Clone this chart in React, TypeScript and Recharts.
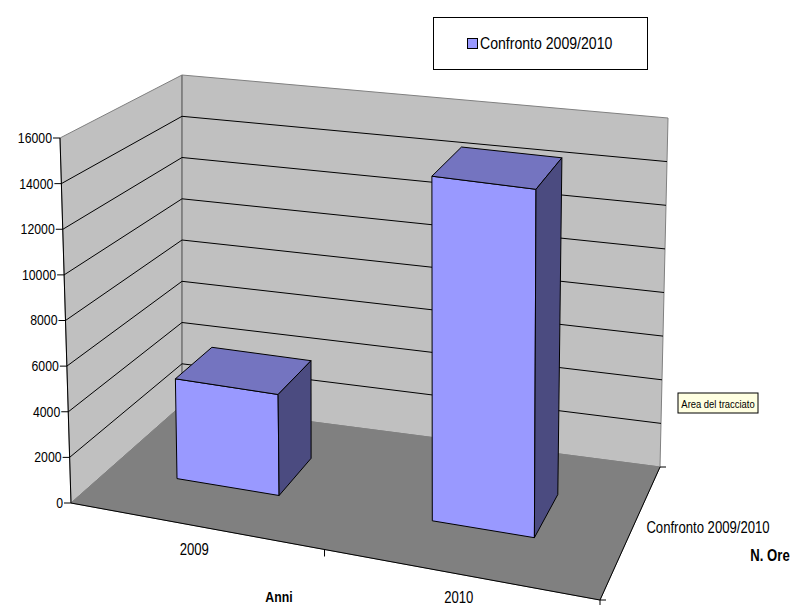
import { BarChart, Bar, XAxis, YAxis, CartesianGrid, Legend } from "recharts";

const CATEGORIES = ["2009", "2010"];
const ORE = [4500, 15100];
const Y_TICKS = [0, 2000, 4000, 6000, 8000, 10000, 12000, 14000, 16000];
const SERIES_NAME = "Confronto 2009/2010";

const data = CATEGORIES.map((anno, i) => ({ anno, ore: ORE[i] }));

const W = 811;
const H = 605;
const FONT = '"Liberation Sans", Arial, sans-serif';
const NARROW = 0.82;

// corners of the 3d box: F/B = front/back, L/R = left/right, 0/1 = floor/top
type Pt = [number, number];
const FL0: Pt = [71, 503];
const FL1: Pt = [60, 138];
const BL0: Pt = [182, 405];
const BL1: Pt = [182, 75];
const FR0: Pt = [600, 600];
const FR1: Pt = [601, 214];
const BR0: Pt = [660, 467];
const BR1: Pt = [668, 118];

const PLOT_TOP = 138;
const PLOT_BOTTOM = 503;
const PLOT_H = PLOT_BOTTOM - PLOT_TOP;
const FRAME_L = 71;
const FRAME_W = 530;
const PLOT_L = 60;
const PLOT_R = 590;
const YAXIS_W = 60;
const XAXIS_H = 30;
// depth of the columns inside the box (0 = front, 1 = back wall)
const DEPTH0 = 0.36;
const DEPTH1 = 0.7;

const lerp = (a: Pt, b: Pt, t: number): Pt => [a[0] + (b[0] - a[0]) * t, a[1] + (b[1] - a[1]) * t];

function P(u: number, v: number, w: number): Pt {
  const bottom = lerp(lerp(FL0, FR0, u), lerp(BL0, BR0, u), w);
  const top = lerp(lerp(FL1, FR1, u), lerp(BL1, BR1, u), w);
  return lerp(bottom, top, v);
}

const pts = (arr: Pt[]) => arr.map((p) => `${p[0].toFixed(1)},${p[1].toFixed(1)}`).join(" ");

// excel-ish condensed text
const NText = ({ x, y, size, anchor = "middle", bold = false, children }: any) => (
  <text
    transform={`translate(${x},${y}) scale(${NARROW},1)`}
    textAnchor={anchor}
    dominantBaseline="central"
    fontFamily={FONT}
    fontSize={size}
    fontWeight={bold ? "bold" : "normal"}
    fill="#000"
  >
    {children}
  </text>
);

function Frame() {
  const f0 = P(0, 0, 0);
  const f1 = P(1, 0, 0);
  const b1 = P(1, 0, 1);
  return (
    <g>
      <polygon points={pts([P(0, 0, 0), P(0, 0, 1), P(0, 1, 1), P(0, 1, 0)])} fill="#c0c0c0" stroke="#808080" />
      <polygon points={pts([P(0, 0, 1), P(1, 0, 1), P(1, 1, 1), P(0, 1, 1)])} fill="#c0c0c0" stroke="#808080" />
      <polygon points={pts([P(0, 0, 0), P(1, 0, 0), P(1, 0, 1), P(0, 0, 1)])} fill="#808080" stroke="#808080" />
      <line x1={BL0[0]} y1={BL0[1]} x2={BL1[0]} y2={BL1[1]} stroke="#707070" />
      {/* axes */}
      <line x1={f0[0]} y1={f0[1]} x2={FL1[0]} y2={FL1[1]} stroke="#000" />
      <line x1={f0[0]} y1={f0[1]} x2={f1[0]} y2={f1[1]} stroke="#000" />
      <line x1={f1[0]} y1={f1[1]} x2={b1[0]} y2={b1[1]} stroke="#000" />
      <line x1={f1[0]} y1={f1[1]} x2={f1[0]} y2={f1[1] + 7} stroke="#000" />
      <line x1={f1[0]} y1={f1[1]} x2={f1[0] + 6} y2={f1[1]} stroke="#000" />
      <line x1={b1[0]} y1={b1[1]} x2={b1[0] + 6} y2={b1[1]} stroke="#000" />
      <NText x={708} y={528} size={16}>
        {SERIES_NAME}
      </NText>
      <NText x={770} y={556} size={16} bold>
        N. Ore
      </NText>
      <NText x={279} y={597} size={15} bold>
        Anni
      </NText>
      <rect x={678} y={393} width={80} height={20} fill="#ffffe1" stroke="#000" />
      <NText x={718} y={403.5} size={11.5}>
        Area del tracciato
      </NText>
    </g>
  );
}

const renderGridLine = (props: any) => {
  const { y1, index } = props;
  const v = (PLOT_BOTTOM - y1) / PLOT_H;
  const line =
    v > 0.001 && v < 0.999 ? (
      <polyline points={pts([P(0, v, 0), P(0, v, 1), P(1, v, 1)])} fill="none" stroke="#000" />
    ) : null;
  return (
    <g key={`grid-${index}`}>
      {index === 0 && <Frame />}
      {line}
    </g>
  );
};

const YTick = ({ y, payload }: any) => {
  const v = (PLOT_BOTTOM - y) / PLOT_H;
  const [ax, ay] = P(0, v, 0);
  return (
    <g>
      <line x1={ax - 7} y1={ay} x2={ax} y2={ay} stroke="#000" />
      <NText x={ax - 8} y={ay} size={15} anchor="end">
        {payload.value}
      </NText>
    </g>
  );
};

const XTick = ({ x, payload, index }: any) => {
  const u = (x - FRAME_L) / FRAME_W;
  const [px, py] = P(u, 0, 0);
  const [tx, ty] = P(u + 0.5 / CATEGORIES.length, 0, 0);
  return (
    <g>
      <NText x={px + 2} y={py + 24} size={16}>
        {payload.value}
      </NText>
      {index < CATEGORIES.length - 1 && <line x1={tx} y1={ty} x2={tx} y2={ty + 7} stroke="#000" />}
    </g>
  );
};

const Column3D = (props: any) => {
  const { x, y, width } = props;
  const u0 = (x - FRAME_L) / FRAME_W;
  const u1 = (x + width - FRAME_L) / FRAME_W;
  const v = (PLOT_BOTTOM - y) / PLOT_H;
  const front = [P(u0, 0, DEPTH0), P(u1, 0, DEPTH0), P(u1, v, DEPTH0), P(u0, v, DEPTH0)];
  const top = [P(u0, v, DEPTH0), P(u1, v, DEPTH0), P(u1, v, DEPTH1), P(u0, v, DEPTH1)];
  const side = [P(u1, 0, DEPTH0), P(u1, 0, DEPTH1), P(u1, v, DEPTH1), P(u1, v, DEPTH0)];
  return (
    <g strokeLinejoin="round">
      <polygon points={pts(front)} fill="#9999ff" stroke="#000" />
      <polygon points={pts(top)} fill="#7474c0" stroke="#000" />
      <polygon points={pts(side)} fill="#4b4b80" stroke="#000" />
    </g>
  );
};

const LegendBox = () => (
  <div
    style={{
      width: 215,
      height: 53,
      boxSizing: "border-box",
      border: "1px solid #000",
      background: "#fff",
      display: "flex",
      alignItems: "center",
      justifyContent: "center",
      fontFamily: FONT,
      fontSize: 16,
      color: "#000",
    }}
  >
    <span style={{ width: 9, height: 9, background: "#9999ff", border: "1px solid #000", marginRight: 2, flex: "none" }} />
    <span style={{ display: "inline-block", transform: "scaleX(0.88)", transformOrigin: "left center", width: 134, whiteSpace: "nowrap" }}>
      {SERIES_NAME}
    </span>
  </div>
);

export default function App() {
  return (
    <div style={{ position: "absolute", left: 0, top: 0, width: W, height: H, background: "#fff" }}>
      <BarChart
        width={W}
        height={H}
        data={data}
        barCategoryGap="30%"
        margin={{ top: PLOT_TOP, left: PLOT_L - YAXIS_W, right: W - PLOT_R, bottom: H - PLOT_BOTTOM - XAXIS_H }}
      >
        <CartesianGrid horizontal={renderGridLine} vertical={false} />
        <XAxis dataKey="anno" height={XAXIS_H} axisLine={false} tickLine={false} tick={<XTick />} interval={0} />
        <YAxis
          width={YAXIS_W}
          domain={[0, 16000]}
          ticks={Y_TICKS}
          axisLine={false}
          tickLine={false}
          tick={<YTick />}
          interval={0}
        />
        <Legend
          layout="vertical"
          align="center"
          verticalAlign="middle"
          wrapperStyle={{ left: 433, top: 17, width: 215, height: 53 }}
          content={<LegendBox />}
        />
        <Bar dataKey="ore" name={SERIES_NAME} shape={<Column3D />} isAnimationActive={false} />
      </BarChart>
    </div>
  );
}
